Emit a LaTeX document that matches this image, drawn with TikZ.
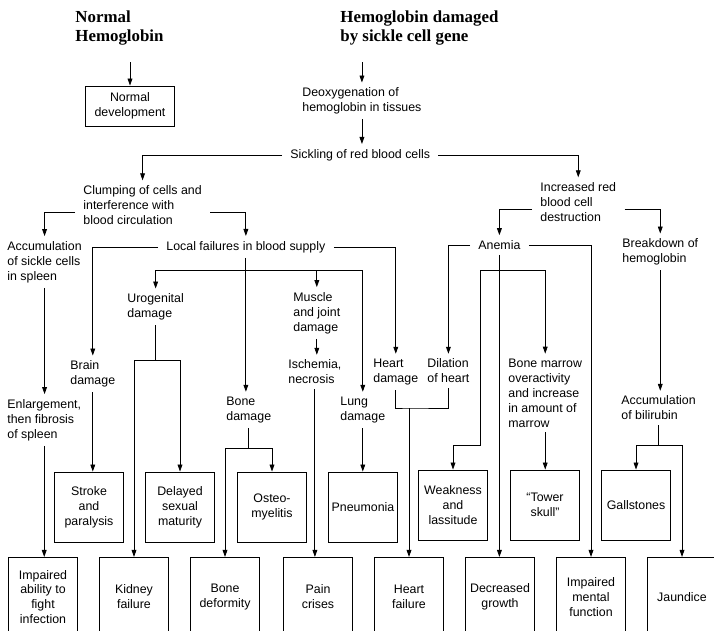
\documentclass[tikz,border=0pt]{standalone}
\usepackage{fontspec}
\setmainfont{Liberation Sans}
\newfontfamily\titlefont{Liberation Serif}
\usetikzlibrary{arrows.meta}

\tikzset{
  ttl/.style={anchor=west, align=left, inner xsep=0pt, inner ysep=0.4cm,
    font=\titlefont\bfseries\fontsize{12}{14.2}\selectfont},
  lbl/.style={anchor=west, align=left, inner xsep=0.2cm, inner ysep=0.12cm,
    font=\fontsize{8.8}{10.6}\selectfont},
  box/.style={draw, align=center, inner sep=0pt, minimum width=1.72cm,
    minimum height=1.75cm, font=\fontsize{8.8}{10.6}\selectfont},
  lowbox/.style={box, minimum height=1.98cm},
}

\begin{document}
\begin{tikzpicture}[x=0.025cm, y=-0.025cm, line width=0.6pt,
    >={Triangle[length=5pt,width=3.4pt]}]
    \useasboundingbox (0,0) rectangle (714,630);
    \clip (0,0) rectangle (714,630);

    % Define the nodes
    \node[ttl] (normal) at (75, 28) {Normal\\Hemoglobin};
    \node[ttl] (damaged) at (340, 28) {Hemoglobin damaged\\by sickle cell gene};
    \node[box, minimum width=2.22cm, minimum height=1cm] (normdev) at (130, 106) {Normal\\development};

    \node[lbl] (deoxy) at (294, 101) {Deoxygenation of\\hemoglobin in tissues};
    \node[lbl] (sickling) at (282, 155) {Sickling of red blood cells};
    \node[lbl] (clumping) at (75, 205) {Clumping of cells and\\interference with\\blood circulation};
    \node[lbl] (destruct) at (532, 202) {Increased red\\blood cell\\destruction};
    \node[lbl] (spleen) at (-1, 262) {Accumulation\\of sickle cells\\in spleen};
    \node[lbl] (localf) at (158, 247) {Local failures in blood supply};
    \node[lbl] (anemia) at (470, 245) {Anemia};
    \node[lbl] (breakdown) at (614, 252) {Breakdown of\\hemoglobin};
    \node[lbl] (urogen) at (119, 307) {Urogenital\\damage};
    \node[lbl] (muscle) at (285, 313) {Muscle\\and joint\\damage};
    \node[lbl] (brain) at (62, 374) {Brain\\damage};
    \node[lbl] (ischemia) at (280, 372) {Ischemia,\\necrosis};
    \node[lbl] (heart) at (365, 372) {Heart\\damage};
    \node[lbl] (dilation) at (419, 371) {Dilation\\of heart};
    \node[lbl] (marrow) at (500, 393) {Bone marrow\\overactivity\\and increase\\in amount of\\marrow};
    \node[lbl] (fibrosis) at (-1, 420) {Enlargement,\\then fibrosis\\of spleen};
    \node[lbl] (bone) at (218, 410) {Bone\\damage};
    \node[lbl] (lung) at (332, 410) {Lung\\damage};
    \node[lbl] (bilirubin) at (613, 408) {Accumulation\\of bilirubin};

    \node[box] (stroke) at (89, 507) {Stroke\\and\\paralysis};
    \node[box] (sexual) at (180, 507) {Delayed\\sexual\\maturity};
    \node[box] (osteo) at (272, 507) {Osteo-\\myelitis};
    \node[box] (pneumonia) at (363, 507) {Pneumonia};
    \node[box] (weakness) at (453, 505) {Weakness\\and\\lassitude};
    \node[box] (tower) at (545, 505) {“Tower\\skull”};
    \node[box] (gallstones) at (636, 505) {Gallstones};

    \node[lowbox] (infection) at (43, 597) {Impaired\\ability to\\fight\\infection};
    \node[lowbox] (kidney) at (134, 597) {Kidney\\failure};
    \node[lowbox] (deformity) at (225, 597) {Bone\\deformity};
    \node[lowbox] (pain) at (318, 597) {Pain\\crises};
    \node[lowbox] (heartfail) at (409, 597) {Heart\\failure};
    \node[lowbox] (growth) at (500, 597) {Decreased\\growth};
    \node[lowbox] (mental) at (591, 597) {Impaired\\mental\\function};
    \node[lowbox] (jaundice) at (682, 597) {Jaundice};

    % Draw the edges
    \draw[->] (normdev.north |- normal.south) -- (normdev.north);
    \draw[->] (deoxy.north |- damaged.south) -- (deoxy.north);
    \draw[->] (deoxy.south) -- (deoxy.south |- sickling.north);
    \draw[->] (sickling.west) -| (clumping.north);
    \draw[->] (sickling.east) -| (destruct.north);

    \draw[->] (clumping.west |- 0,212) -| (spleen.north);
    \draw[->] (clumping.east |- 0,212) -| (localf.north);
    \draw[->] (destruct.west |- 0,209) -| (anemia.north);
    \draw[->] (destruct.east |- 0,209) -| (breakdown.north);

    \draw[->] (spleen.south) -- (spleen.south |- fibrosis.north);
    \draw[->] (fibrosis.south) -- (fibrosis.south |- infection.north);

    \draw[->] (localf.west) -| (brain.north);
    \draw[->] (localf.east) -| (heart.north);
    \draw[->] (localf.south) -- (localf.south |- bone.north);
    \coordinate (lsplit) at (localf.south |- 0,270);
    \draw[->] (lsplit) -| (urogen.north);
    \draw[->] (lsplit) -| (lung.north);
    \draw[->] (muscle.north |- lsplit) -- (muscle.north);

    \draw (urogen.south) -- (urogen.south |- 0,360) coordinate (ufork);
    \draw[->] (ufork) -| (kidney.north);
    \draw[->] (ufork) -| (sexual.north);
    \draw[->] (brain.south) -- (brain.south |- stroke.north);
    \draw[->] (muscle.south) -- (muscle.south |- ischemia.north);
    \draw[->] (ischemia.south) -- (ischemia.south |- pain.north);

    \draw (bone.south) -- (bone.south |- 0,448) coordinate (bfork);
    \draw[->] (bfork) -| (deformity.north);
    \draw[->] (bfork) -| (osteo.north);
    \draw[->] (lung.south) -- (lung.south |- pneumonia.north);
    \draw (heart.south) |- (heartfail.north |- 0,408) -| (dilation.south);
    \draw[->] (heartfail.north |- 0,408) -- (heartfail.north);

    \draw[->] (anemia.west) -| (dilation.north);
    \draw[->] (anemia.east) -| (mental.north);
    \draw[->] (anemia.south) -- (anemia.south |- growth.north);
    \coordinate (asplit) at (anemia.south |- 0,270);
    \draw[->] (asplit) -| (marrow.north);
    \draw[->] (asplit) -| ++(-19,175) -| (weakness.north);
    \draw[->] (marrow.south) -- (marrow.south |- tower.north);

    \draw[->] (breakdown.south) -- (breakdown.south |- bilirubin.north);
    \draw (bilirubin.south) -- (bilirubin.south |- 0,445) coordinate (gfork);
    \draw[->] (gfork) -| (gallstones.north);
    \draw[->] (gfork) -| (jaundice.north);
\end{tikzpicture}
\end{document}
